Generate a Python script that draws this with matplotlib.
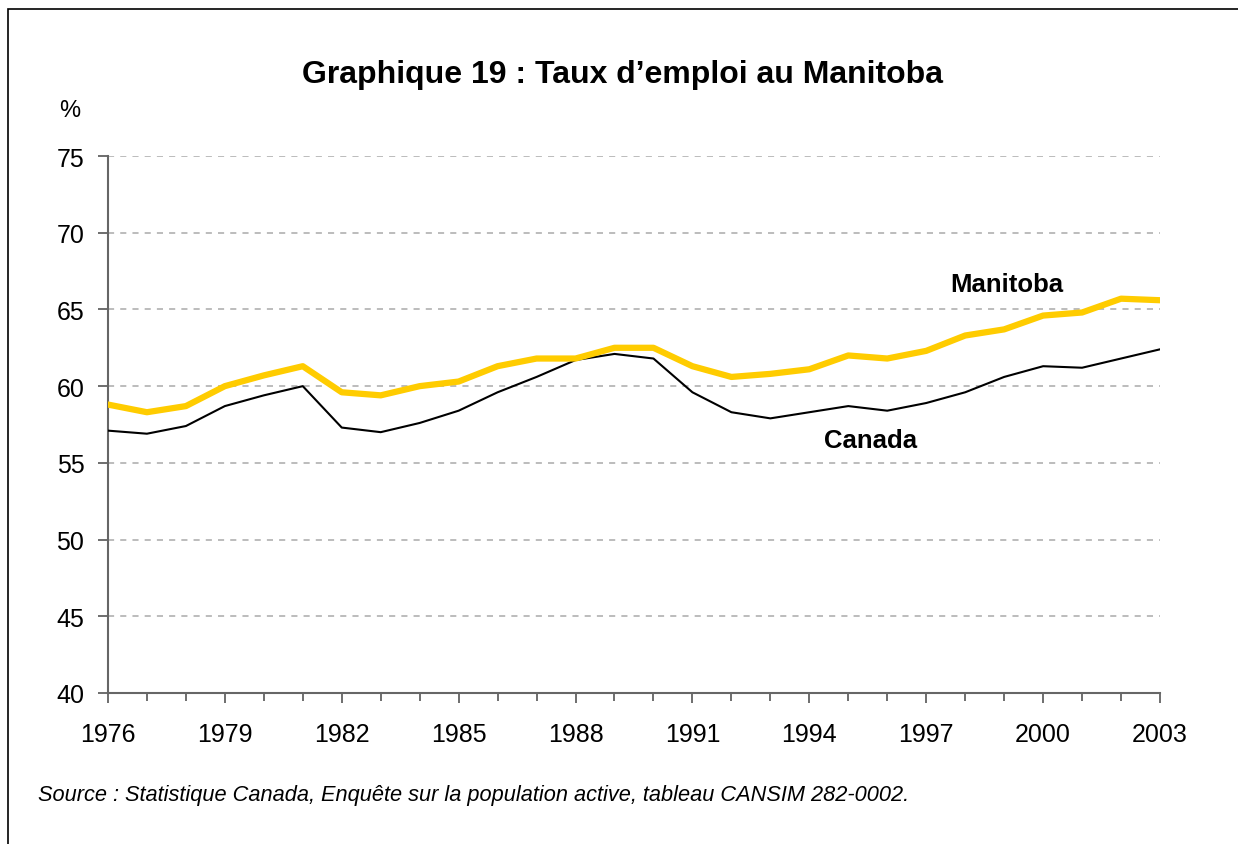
import matplotlib.pyplot as plt
from matplotlib.patches import Rectangle

plt.rcParams['font.family'] = ['Liberation Sans', 'DejaVu Sans']

annees = list(range(1976, 2004))
manitoba = [58.8, 58.3, 58.7, 60.0, 60.7, 61.3, 59.6, 59.4, 60.0, 60.3,
            61.3, 61.8, 61.8, 62.5, 62.5, 61.3, 60.6, 60.8, 61.1, 62.0,
            61.8, 62.3, 63.3, 63.7, 64.6, 64.8, 65.7, 65.6]
canada = [57.1, 56.9, 57.4, 58.7, 59.4, 60.0, 57.3, 57.0, 57.6, 58.4,
          59.6, 60.6, 61.7, 62.1, 61.8, 59.6, 58.3, 57.9, 58.3, 58.7,
          58.4, 58.9, 59.6, 60.6, 61.3, 61.2, 61.8, 62.4]
y_ticks = [40, 45, 50, 55, 60, 65, 70, 75]
x_labels = list(range(1976, 2004, 3))

fig = plt.figure(figsize=(12.38, 8.45), dpi=100)
ax = fig.add_axes([0.0872, 0.1787, 0.8498, 0.6355])

# cadre autour du graphique (bord gauche et haut visibles)
fig.patches.append(Rectangle((8/1238, -0.05), 1.2, 1 - 10/845 + 0.05,
                             transform=fig.transFigure, fill=False,
                             edgecolor='black', linewidth=1.2))

ax.plot(annees, canada, color='black', linewidth=1.5, zorder=3)
ax.plot(annees, manitoba, color='#FFCC00', linewidth=4.5, zorder=4)

ax.set_xlim(1976, 2003)
ax.set_ylim(40, 75)
ax.set_yticks(y_ticks)
ax.set_xticks(annees, minor=True)
ax.set_xticks(x_labels)
ax.set_xticklabels([str(a) for a in x_labels])
ax.tick_params(axis='both', labelsize=18, color='#555555', length=7, width=1.2)
ax.tick_params(axis='x', which='minor', length=6, width=1.2, color='#555555')
ax.tick_params(axis='x', pad=14)
ax.tick_params(axis='y', pad=10)

for v in y_ticks[1:]:
    ax.axhline(v, color='#aaaaaa', linestyle=(0, (4, 4)), linewidth=1.1, zorder=1)

for s in ['top', 'right']:
    ax.spines[s].set_visible(False)
for s in ['left', 'bottom']:
    ax.spines[s].set_color('#666666')
    ax.spines[s].set_linewidth(1.5)

fig.text(623/1238, 1 - 75/845, 'Graphique 19 : Taux d\u2019emploi au Manitoba',
         ha='center', va='center', fontsize=23, fontweight='bold')
fig.text(70/1238, 1 - 111/845, '%', ha='center', va='center', fontsize=17)
ax.text(1999.07, 66.66, 'Manitoba', ha='center', va='center', fontsize=18.5, fontweight='bold')
ax.text(1995.58, 56.49, 'Canada', ha='center', va='center', fontsize=18.5, fontweight='bold')
fig.text(38/1238, 1 - 796/845,
         'Source : Statistique Canada, Enqu\u00eate sur la population active, tableau CANSIM 282-0002.',
         ha='left', va='center', fontsize=15.7, style='italic')

fig.savefig('out.png', dpi=100)
